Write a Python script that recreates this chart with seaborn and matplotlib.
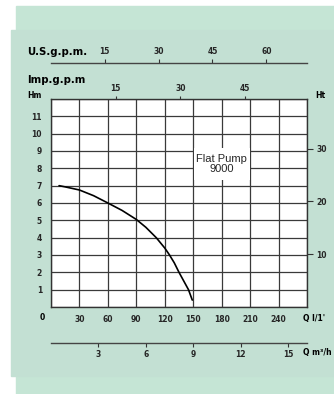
import numpy as np
import pandas as pd
import matplotlib
matplotlib.use("Agg")
from matplotlib import pyplot as plt
from matplotlib.patches import Rectangle
import seaborn as sns

# pump curve: flow in l/min, head in metres
flow_lmin = [8.5, 15, 30, 45, 60, 75, 90, 100, 111, 120, 125, 130, 135, 140, 145, 149]
head_m = [7.0, 6.93, 6.75, 6.42, 6.0, 5.57, 5.05, 4.6, 4.0, 3.4, 3.0, 2.55, 2.0, 1.5, 1.0, 0.4]

x_ticks = [0, 30, 60, 90, 120, 150, 180, 210, 240, 270]
x_labels = ["", "30", "60", "90", "120", "150", "180", "210", "240", ""]
y_ticks = list(range(0, 13))
y_labels = [""] + [str(i) for i in range(1, 12)] + [""]
ft_ticks = [10, 20, 30]
imp_ticks = [15, 30, 45]
us_ticks = [15, 30, 45, 60]
m3h_ticks = [3, 6, 9, 12, 15]

W, H = 334, 394

sns.set_style("white")
plt.rcParams["font.family"] = ["DejaVu Sans"]

fig = plt.figure(figsize=(W / 100, H / 100), dpi=100)
fig.patch.set_facecolor("white")


def fx(x):
    return x / W


def fy(y):
    return 1 - y / H


# green background panels
fig.patches.append(Rectangle((fx(16), fy(394)), fx(334 - 16), (394 - 6) / H,
                             transform=fig.transFigure, color="#c5e5d5", zorder=-2))
fig.patches.append(Rectangle((fx(11), fy(376)), fx(334 - 11), (376 - 30) / H,
                             transform=fig.transFigure, color="#c3e0d3", zorder=-1))

ax = fig.add_axes([fx(51), fy(307), fx(256), 208 / H])
ax.set_facecolor("white")
df = pd.DataFrame({"flow": flow_lmin, "head": head_m})
sns.lineplot(data=df, x="flow", y="head", ax=ax, color="black", lw=1.2, zorder=3)
ax.set_xlim(0, 270)
ax.set_ylim(0, 12)
ax.set_xlabel("")
ax.set_ylabel("")
ax.set_axisbelow(True)
ax.grid(True, color="#3a3a3a", lw=0.9)
for s in ax.spines.values():
    s.set_visible(True)
    s.set_color("#333333")
    s.set_linewidth(1.0)

tick_font = dict(fontsize=5.5, fontweight="heavy")
ax.set_xticks(x_ticks)
ax.set_xticklabels(x_labels, **tick_font)
ax.set_yticks(y_ticks)
ax.set_yticklabels(y_labels, **tick_font)
ax.tick_params(axis="x", length=0, pad=6)
ax.tick_params(axis="y", length=0, pad=6.5)

# white label box over the grid
ax.add_patch(Rectangle((150.6, 7.3), 58.8, 1.9, facecolor="white",
                       edgecolor="none", zorder=2))
ax.text(180, 8.25, "Flat Pump\n9000", ha="center", va="center", fontsize=8,
        family=["Liberation Sans Narrow", "Liberation Sans"], linespacing=1.05,
        zorder=4)

# right axis in feet
axr = ax.twinx()
axr.set_ylim(0, 12 * 3.28084)
axr.set_yticks(ft_ticks)
axr.set_yticklabels([str(t) for t in ft_ticks], **tick_font)
axr.tick_params(axis="y", length=4.5, width=0.8, color="#333333", pad=2)
axr.grid(False)
for s in axr.spines.values():
    s.set_visible(False)

# top axis in imperial gallons per minute
imp = ax.secondary_xaxis("top", functions=(lambda q: q / 4.546, lambda g: g * 4.546))
imp.set_xticks(imp_ticks)
imp.set_xticklabels([str(t) for t in imp_ticks], **tick_font)
imp.tick_params(length=2.2, width=0.8, color="#333333", pad=2)
imp.spines["top"].set_visible(False)

# US gallons per minute scale above
us = ax.secondary_xaxis((307 - 63.3) / 208,
                        functions=(lambda q: q / 3.785, lambda g: g * 3.785))
us.set_xticks(us_ticks)
us.set_xticklabels([str(t) for t in us_ticks], **tick_font)
us.tick_params(length=3, width=0.8, color="#333333", pad=2)
us.spines["top"].set_color("#444444")
us.spines["top"].set_linewidth(1.0)

# m3/h scale below
m3 = ax.secondary_xaxis(-(342.7 - 307) / 208,
                        functions=(lambda q: q * 0.06, lambda m: m / 0.06))
m3.set_xticks(m3h_ticks)
m3.set_xticklabels([str(t) for t in m3h_ticks], **tick_font)
m3.tick_params(length=3, width=0.8, color="#333333", pad=2.5)
m3.spines["bottom"].set_color("#444444")
m3.spines["bottom"].set_linewidth(1.0)

lab = dict(fontweight="heavy", color="black")
fig.text(fx(27), fy(52), "U.S.g.p.m.", ha="left", va="center", fontsize=7.3, **lab)
fig.text(fx(27), fy(80), "Imp.g.p.m", ha="left", va="center", fontsize=7.3, **lab)
fig.text(fx(34), fy(95), "Hm", ha="center", va="center", fontsize=5.5, **lab)
fig.text(fx(320), fy(95), "Ht", ha="center", va="center", fontsize=5.5, **lab)
fig.text(fx(42), fy(318), "0", ha="center", va="center", fontsize=5.5, **lab)
fig.text(fx(303), fy(318), "Q l/1'", ha="left", va="center", fontsize=5.5, **lab)
fig.text(fx(303), fy(352), "Q m³/h", ha="left", va="center", fontsize=5.5, **lab)

fig.savefig("out.png", dpi=100, facecolor=fig.get_facecolor())
